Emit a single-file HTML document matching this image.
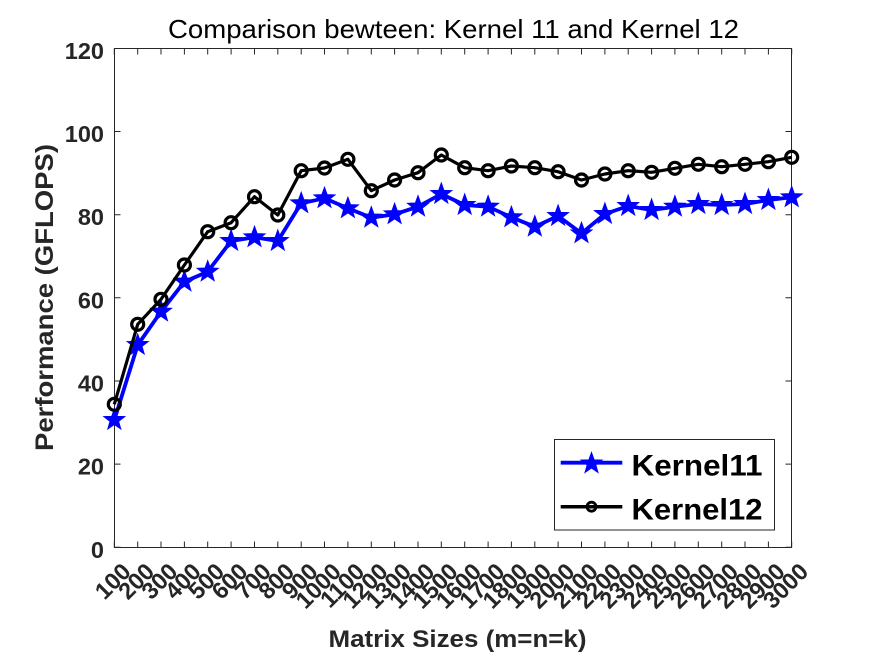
<!DOCTYPE html>
<html>
<head>
<meta charset="utf-8">
<style>
html,body{margin:0;padding:0;background:#fff;}
svg{display:block;}
text{font-family:"Liberation Sans",Arial,sans-serif;}
</style>
</head>
<body>
<svg width="875" height="656" viewBox="0 0 875 656" xmlns="http://www.w3.org/2000/svg">
<defs>
<path id="star" d="M0,-11 L2.645,-3.64 L10.46,-3.4 L4.28,1.39 L6.47,8.9 L0,4.5 L-6.47,8.9 L-4.28,1.39 L-10.46,-3.4 L-2.645,-3.64 Z" fill="#0000ff" stroke="#0000ff" stroke-width="1" stroke-linejoin="miter"/>
</defs>
<rect width="875" height="656" fill="#fff"/>

<!-- title -->
<text x="453.5" y="38" text-anchor="middle" font-size="26" fill="#000" textLength="571" lengthAdjust="spacingAndGlyphs">Comparison bewteen: Kernel 11 and Kernel 12</text>

<!-- axes box -->
<rect x="114.5" y="48.5" width="677" height="499" fill="none" stroke="#262626" stroke-width="1"/>

<!-- y ticks -->
<g stroke="#262626" stroke-width="1">
<path d="M114.5,547.3h6M114.5,464.1h6M114.5,381h6M114.5,297.8h6M114.5,214.7h6M114.5,131.5h6M114.5,48.5h6"/>
<path d="M791.5,547.3h-6M791.5,464.1h-6M791.5,381h-6M791.5,297.8h-6M791.5,214.7h-6M791.5,131.5h-6M791.5,48.5h-6"/>
</g>
<g font-size="23.5" font-weight="bold" fill="#262626" text-anchor="end">
<text x="104" y="557.8">0</text>
<text x="104" y="474.6">20</text>
<text x="104" y="391.5">40</text>
<text x="104" y="308.3">60</text>
<text x="104" y="225.2">80</text>
<text x="104" y="142">100</text>
<text x="104" y="59">120</text>
</g>

<!-- x ticks -->
<g stroke="#262626" stroke-width="1">
<path d="M114.3,547.5v-6M137.7,547.5v-6M161,547.5v-6M184.4,547.5v-6M207.7,547.5v-6M231.1,547.5v-6M254.5,547.5v-6M277.8,547.5v-6M301.2,547.5v-6M324.5,547.5v-6M347.9,547.5v-6M371.3,547.5v-6M394.6,547.5v-6M418,547.5v-6M441.3,547.5v-6M464.7,547.5v-6M488.1,547.5v-6M511.4,547.5v-6M534.8,547.5v-6M558.1,547.5v-6M581.5,547.5v-6M604.9,547.5v-6M628.2,547.5v-6M651.6,547.5v-6M674.9,547.5v-6M698.3,547.5v-6M721.7,547.5v-6M745,547.5v-6M768.4,547.5v-6M791.7,547.5v-6"/>
<path d="M114.3,48.5v6M137.7,48.5v6M161,48.5v6M184.4,48.5v6M207.7,48.5v6M231.1,48.5v6M254.5,48.5v6M277.8,48.5v6M301.2,48.5v6M324.5,48.5v6M347.9,48.5v6M371.3,48.5v6M394.6,48.5v6M418,48.5v6M441.3,48.5v6M464.7,48.5v6M488.1,48.5v6M511.4,48.5v6M534.8,48.5v6M558.1,48.5v6M581.5,48.5v6M604.9,48.5v6M628.2,48.5v6M651.6,48.5v6M674.9,48.5v6M698.3,48.5v6M721.7,48.5v6M745,48.5v6M768.4,48.5v6M791.7,48.5v6"/>
</g>
<g font-size="23.5" font-weight="bold" fill="#262626" text-anchor="end">
<text transform="translate(132.3,573) rotate(-45)">100</text>
<text transform="translate(155.7,573) rotate(-45)">200</text>
<text transform="translate(179,573) rotate(-45)">300</text>
<text transform="translate(202.4,573) rotate(-45)">400</text>
<text transform="translate(225.7,573) rotate(-45)">500</text>
<text transform="translate(249.1,573) rotate(-45)">600</text>
<text transform="translate(272.5,573) rotate(-45)">700</text>
<text transform="translate(295.8,573) rotate(-45)">800</text>
<text transform="translate(319.2,573) rotate(-45)">900</text>
<text transform="translate(342.5,573) rotate(-45)">1000</text>
<text transform="translate(365.9,573) rotate(-45)">1100</text>
<text transform="translate(389.3,573) rotate(-45)">1200</text>
<text transform="translate(412.6,573) rotate(-45)">1300</text>
<text transform="translate(436,573) rotate(-45)">1400</text>
<text transform="translate(459.3,573) rotate(-45)">1500</text>
<text transform="translate(482.7,573) rotate(-45)">1600</text>
<text transform="translate(506.1,573) rotate(-45)">1700</text>
<text transform="translate(529.4,573) rotate(-45)">1800</text>
<text transform="translate(552.8,573) rotate(-45)">1900</text>
<text transform="translate(576.1,573) rotate(-45)">2000</text>
<text transform="translate(599.5,573) rotate(-45)">2100</text>
<text transform="translate(622.9,573) rotate(-45)">2200</text>
<text transform="translate(646.2,573) rotate(-45)">2300</text>
<text transform="translate(669.6,573) rotate(-45)">2400</text>
<text transform="translate(692.9,573) rotate(-45)">2500</text>
<text transform="translate(716.3,573) rotate(-45)">2600</text>
<text transform="translate(739.7,573) rotate(-45)">2700</text>
<text transform="translate(763,573) rotate(-45)">2800</text>
<text transform="translate(786.4,573) rotate(-45)">2900</text>
<text transform="translate(809.7,573) rotate(-45)">3000</text>
</g>

<!-- axis labels -->
<text x="457.5" y="647" text-anchor="middle" font-size="24" font-weight="bold" fill="#262626" textLength="258" lengthAdjust="spacingAndGlyphs">Matrix Sizes (m=n=k)</text>
<text transform="translate(53,297.5) rotate(-90)" text-anchor="middle" font-size="25" font-weight="bold" fill="#262626" textLength="307" lengthAdjust="spacingAndGlyphs">Performance (GFLOPS)</text>

<!-- Kernel11 -->
<polyline fill="none" stroke="#0000ff" stroke-width="3.8" stroke-linejoin="round" points="114.3,420 137.7,345 161,311.7 184.4,281.7 207.7,271.7 231.1,241 254.5,237.3 277.8,241 301.2,203.3 324.5,198.3 347.9,208.3 371.3,217.7 394.6,214.3 418,206.7 441.3,194 464.7,205 488.1,206.7 511.4,217.3 534.8,226.7 558.1,216 581.5,233.3 604.9,214 628.2,206 651.6,210 674.9,206.7 698.3,204 721.7,205 745,204 768.4,200 791.7,197.3"/>
<g>
<use href="#star" x="114.3" y="420"/>
<use href="#star" x="137.7" y="345"/>
<use href="#star" x="161" y="311.7"/>
<use href="#star" x="184.4" y="281.7"/>
<use href="#star" x="207.7" y="271.7"/>
<use href="#star" x="231.1" y="241"/>
<use href="#star" x="254.5" y="237.3"/>
<use href="#star" x="277.8" y="241"/>
<use href="#star" x="301.2" y="203.3"/>
<use href="#star" x="324.5" y="198.3"/>
<use href="#star" x="347.9" y="208.3"/>
<use href="#star" x="371.3" y="217.7"/>
<use href="#star" x="394.6" y="214.3"/>
<use href="#star" x="418" y="206.7"/>
<use href="#star" x="441.3" y="194"/>
<use href="#star" x="464.7" y="205"/>
<use href="#star" x="488.1" y="206.7"/>
<use href="#star" x="511.4" y="217.3"/>
<use href="#star" x="534.8" y="226.7"/>
<use href="#star" x="558.1" y="216"/>
<use href="#star" x="581.5" y="233.3"/>
<use href="#star" x="604.9" y="214"/>
<use href="#star" x="628.2" y="206"/>
<use href="#star" x="651.6" y="210"/>
<use href="#star" x="674.9" y="206.7"/>
<use href="#star" x="698.3" y="204"/>
<use href="#star" x="721.7" y="205"/>
<use href="#star" x="745" y="204"/>
<use href="#star" x="768.4" y="200"/>
<use href="#star" x="791.7" y="197.3"/>
</g>

<!-- Kernel12 -->
<polyline fill="none" stroke="#000" stroke-width="3.2" stroke-linejoin="round" points="114.3,404.3 137.7,324.3 161,299.3 184.4,265 207.7,231.7 231.1,222.7 254.5,196.7 277.8,215 301.2,170.7 324.5,168 347.9,159.3 371.3,190.7 394.6,180 418,172.7 441.3,155 464.7,167.7 488.1,170.7 511.4,166 534.8,167.7 558.1,171.7 581.5,180 604.9,174 628.2,170.7 651.6,172.3 674.9,168.3 698.3,164.3 721.7,166.7 745,164.3 768.4,161.7 791.7,157.3"/>
<g fill="none" stroke="#000" stroke-width="3.2">
<circle cx="114.3" cy="404.3" r="6"/>
<circle cx="137.7" cy="324.3" r="6"/>
<circle cx="161" cy="299.3" r="6"/>
<circle cx="184.4" cy="265" r="6"/>
<circle cx="207.7" cy="231.7" r="6"/>
<circle cx="231.1" cy="222.7" r="6"/>
<circle cx="254.5" cy="196.7" r="6"/>
<circle cx="277.8" cy="215" r="6"/>
<circle cx="301.2" cy="170.7" r="6"/>
<circle cx="324.5" cy="168" r="6"/>
<circle cx="347.9" cy="159.3" r="6"/>
<circle cx="371.3" cy="190.7" r="6"/>
<circle cx="394.6" cy="180" r="6"/>
<circle cx="418" cy="172.7" r="6"/>
<circle cx="441.3" cy="155" r="6"/>
<circle cx="464.7" cy="167.7" r="6"/>
<circle cx="488.1" cy="170.7" r="6"/>
<circle cx="511.4" cy="166" r="6"/>
<circle cx="534.8" cy="167.7" r="6"/>
<circle cx="558.1" cy="171.7" r="6"/>
<circle cx="581.5" cy="180" r="6"/>
<circle cx="604.9" cy="174" r="6"/>
<circle cx="628.2" cy="170.7" r="6"/>
<circle cx="651.6" cy="172.3" r="6"/>
<circle cx="674.9" cy="168.3" r="6"/>
<circle cx="698.3" cy="164.3" r="6"/>
<circle cx="721.7" cy="166.7" r="6"/>
<circle cx="745" cy="164.3" r="6"/>
<circle cx="768.4" cy="161.7" r="6"/>
<circle cx="791.7" cy="157.3" r="6"/>
</g>

<!-- legend -->
<rect x="554.5" y="439.5" width="220" height="90.5" fill="#fff" stroke="#262626" stroke-width="1"/>
<line x1="560.7" y1="462.7" x2="622.3" y2="462.7" stroke="#0000ff" stroke-width="3.8"/>
<use href="#star" x="591.5" y="463.5"/>
<line x1="560.7" y1="506.7" x2="622.3" y2="506.7" stroke="#000" stroke-width="3.5"/>
<circle cx="591.5" cy="506.7" r="4.5" fill="none" stroke="#000" stroke-width="2.8"/>
<g font-size="30" font-weight="bold" fill="#000">
<text x="631.5" y="475.7" textLength="131" lengthAdjust="spacingAndGlyphs">Kernel11</text>
<text x="631.5" y="519.5" textLength="131" lengthAdjust="spacingAndGlyphs">Kernel12</text>
</g>
</svg>
</body>
</html>
